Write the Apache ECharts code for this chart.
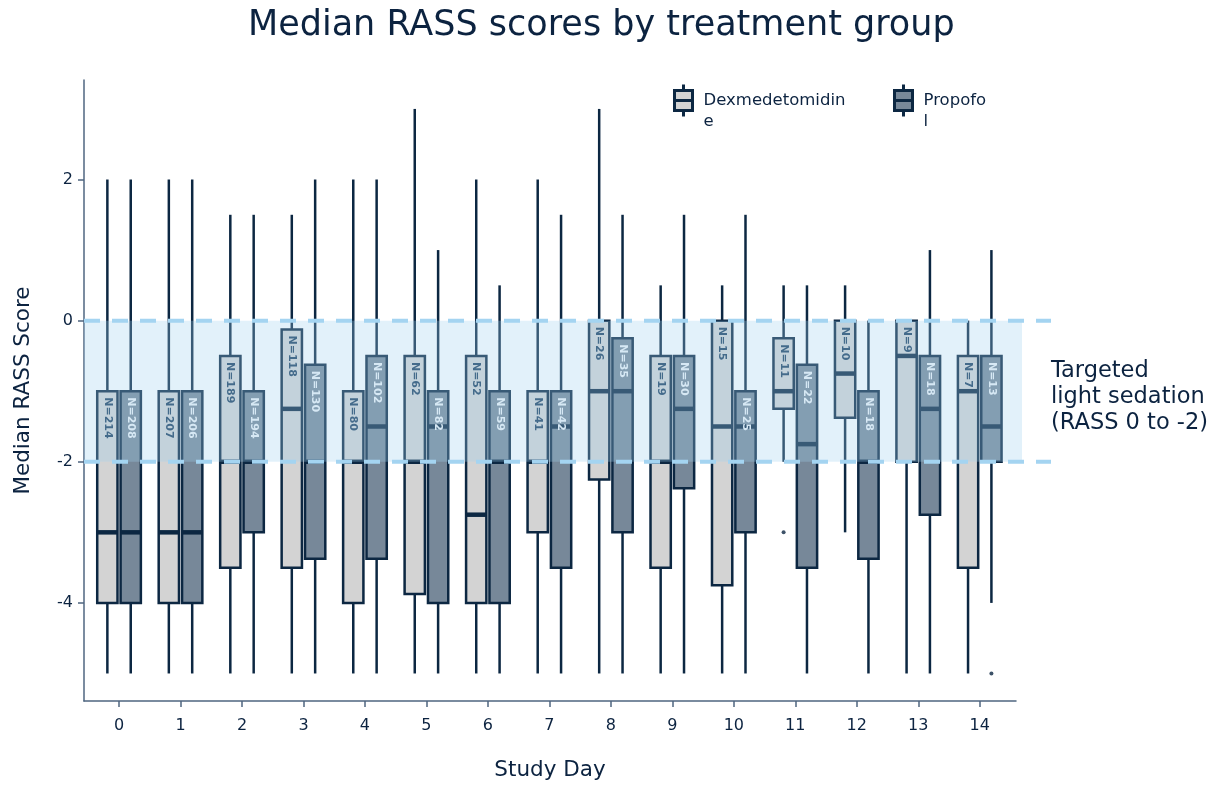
<!DOCTYPE html>
<html>
<head>
<meta charset="utf-8">
<script src="https://cdn.jsdelivr.net/npm/echarts@6/dist/echarts.min.js"></script>
<style>
html,body{margin:0;padding:0;background:#fff;}
#chart{width:1210px;height:786px;}
</style>
</head>
<body>
<div id="chart"></div>
<script>
// ---------- data ----------
const days = [0,1,2,3,4,5,6,7,8,9,10,11,12,13,14];
const xTickLabels = [0,1,2,3,4,5,6,7,8,9,10,11,12,13,14];
const yTickValues = [-4,-2,0,2];

const dexN    = [214,207,189,118,80,62,52,41,26,19,15,11,10,9,7];
const dexLow  = [-5,-5,-5,-5,-5,-5,-5,-5,-5,-5,-5,-2,-3,-5,-5];
const dexQ1   = [-4,-4,-3.5,-3.5,-4,-3.875,-4,-3,-2.25,-3.5,-3.75,-1.25,-1.375,-2,-3.5];
const dexMed  = [-3,-3,-2,-1.25,-2,-2,-2.75,-2,-1,-2,-1.5,-1,-0.75,-0.5,-1];
const dexQ3   = [-1,-1,-0.5,-0.125,-1,-0.5,-0.5,-1,0,-0.5,0,-0.25,0,0,-0.5];
const dexHigh = [2,2,1.5,1.5,2,3,2,2,3,0.5,0.5,0.5,0.5,0,0];
const dexOutliers = [[11,-3]];

const propN    = [208,206,194,130,102,82,59,42,35,30,25,22,18,18,13];
const propLow  = [-5,-5,-5,-5,-5,-5,-5,-5,-5,-5,-5,-5,-5,-5,-4];
const propQ1   = [-4,-4,-3,-3.375,-3.375,-4,-4,-3.5,-3,-2.375,-3,-3.5,-3.375,-2.75,-2];
const propMed  = [-3,-3,-2,-2,-1.5,-1.5,-2,-1.5,-1,-1.25,-1.5,-1.75,-2,-1.25,-1.5];
const propQ3   = [-1,-1,-1,-0.625,-0.5,-1,-1,-1,-0.25,-0.5,-1,-0.625,-1,-0.5,-0.5];
const propHigh = [2,2,1.5,2,2,1,0.5,1.5,1.5,1.5,1.5,0.5,0,1,1];
const propOutliers = [[14,-5]];

const targetRange = [0, -2];

// ---------- styles ----------
const FONT = 'DejaVu Sans';
const DARK = '#0c2742';
const TEXT = '#0c2340';
const AXIS = '#4f6680';
const DEX_FILL = '#d3d3d3';
const PROP_FILL = '#778899';
const OFFSET = 0.19;
const HALF = 0.165;

function boxData(n, lo, q1, md, q3, hi) {
  return days.map((d, i) => [d, lo[i], q1[i], md[i], q3[i], hi[i], n[i]]);
}

function makeRender(offset, fill, labelColor) {
  return function (params, api) {
    const x = api.value(0) + offset;
    const lo = api.value(1), q1 = api.value(2), md = api.value(3), q3 = api.value(4), hi = api.value(5), n = api.value(6);
    const pHi = api.coord([x, hi]);
    const pQ3 = api.coord([x, q3]);
    const pQ1 = api.coord([x, q1]);
    const pLo = api.coord([x, lo]);
    const pL = api.coord([x - HALF, md]);
    const pR = api.coord([x + HALF, md]);
    const children = [];
    if (hi > q3) children.push({type:'line', shape:{x1:pHi[0],y1:pHi[1],x2:pQ3[0],y2:pQ3[1]}, style:{stroke:DARK,lineWidth:2.5}});
    if (lo < q1) children.push({type:'line', shape:{x1:pQ1[0],y1:pQ1[1],x2:pLo[0],y2:pLo[1]}, style:{stroke:DARK,lineWidth:2.5}});
    children.push({type:'rect', shape:{x:pL[0], y:pQ3[1], width:pR[0]-pL[0], height:pQ1[1]-pQ3[1]}, style:{fill:fill, stroke:DARK, lineWidth:2.5}});
    children.push({type:'line', shape:{x1:pL[0],y1:pL[1],x2:pR[0],y2:pR[1]}, style:{stroke:DARK,lineWidth:4.5}});
    children.push({type:'text', x:pQ3[0], y:pQ3[1]+6, rotation:-Math.PI/2,
      style:{text:'N=' + n, fill:labelColor, font:'bold 11px "' + FONT + '"', align:'left', verticalAlign:'middle'}});
    return {type:'group', children:children};
  };
}

function renderBand(params, api) {
  const cs = params.coordSys;
  const y0 = api.coord([0, api.value(0)])[1];
  const y1 = api.coord([0, api.value(1)])[1];
  const left = cs.x;
  const bandRight = cs.x + cs.width + 6;
  const lineRight = cs.x + cs.width + 35;
  return {type:'group', children:[
    {type:'rect', shape:{x:left, y:y0, width:bandRight-left, height:y1-y0}, style:{fill:'rgba(160,208,240,0.30)'}},
    {type:'line', shape:{x1:left, y1:y0, x2:lineRight, y2:y0}, style:{stroke:'#a4d4f1', lineWidth:4, lineDash:[16,12]}},
    {type:'line', shape:{x1:left, y1:y1, x2:lineRight, y2:y1}, style:{stroke:'#a4d4f1', lineWidth:4, lineDash:[16,12]}}
  ]};
}

const legendIcon = 'path://M9,0L9,6M0,6L18,6L18,26L0,26ZM0,16L18,16M9,26L9,32';

const chart = echarts.init(document.getElementById('chart'), null, {renderer:'canvas'});
chart.setOption({
  backgroundColor:'#ffffff',
  animation:false,
  textStyle:{fontFamily:FONT},
  title:{
    text:'Median RASS scores by treatment group',
    left:243, top:3,
    textStyle:{fontFamily:FONT, fontSize:35, fontWeight:'normal', color:TEXT}
  },
  legend:[
    {left:673, top:69, padding:0, itemWidth:30, itemHeight:32, selectedMode:false,
     data:[{name:'Dexmedetomidine', icon:legendIcon, itemStyle:{color:DEX_FILL, borderColor:DARK, borderWidth:3}}],
     formatter:function(){return '\nDexmedetomidin\ne';},
     textStyle:{fontFamily:FONT, fontSize:16.5, color:TEXT, lineHeight:21}},
    {left:893, top:69, padding:0, itemWidth:30, itemHeight:32, selectedMode:false,
     data:[{name:'Propofol', icon:legendIcon, itemStyle:{color:PROP_FILL, borderColor:DARK, borderWidth:3}}],
     formatter:function(){return '\nPropofo\nl';},
     textStyle:{fontFamily:FONT, fontSize:16.5, color:TEXT, lineHeight:21}}
  ],
  grid:{left:84, right:194, top:80, bottom:81, containLabel:false},
  xAxis:{
    type:'value', min:-0.57, max:14.59,
    name:'Study Day', nameLocation:'middle', nameGap:58,
    nameTextStyle:{fontFamily:FONT, fontSize:21.5, color:TEXT},
    axisLine:{show:true, onZero:false, lineStyle:{color:AXIS, width:1.5}},
    axisTick:{show:true, length:6, lineStyle:{color:AXIS, width:1.5}, customValues:xTickLabels},
    axisLabel:{color:TEXT, fontSize:16, fontFamily:FONT, margin:17, customValues:xTickLabels},
    splitLine:{show:false}
  },
  yAxis:{
    type:'value', min:-5.39, max:3.41,
    name:'Median RASS Score', nameLocation:'middle', nameGap:50,
    nameTextStyle:{fontFamily:FONT, fontSize:21.5, color:TEXT},
    axisLine:{show:true, onZero:false, lineStyle:{color:AXIS, width:1.5}},
    axisTick:{show:true, length:6, lineStyle:{color:AXIS, width:1.5}, customValues:yTickValues},
    axisLabel:{color:TEXT, fontSize:16, fontFamily:FONT, margin:11, customValues:yTickValues},
    splitLine:{show:false}
  },
  graphic:[{
    type:'text', left:1051, top:358,
    style:{text:'Targeted\nlight sedation\n(RASS 0 to -2)', fill:TEXT, font:'22.5px "' + FONT + '"', lineHeight:26, align:'center'}
  }],
  series:[
    {name:'Dexmedetomidine', type:'custom', z:2, renderItem:makeRender(-OFFSET, DEX_FILL, '#1d3f60'),
     itemStyle:{color:DEX_FILL, borderColor:DARK}, data:boxData(dexN, dexLow, dexQ1, dexMed, dexQ3, dexHigh)},
    {name:'Propofol', type:'custom', z:2, renderItem:makeRender(OFFSET, PROP_FILL, '#eef2f6'),
     itemStyle:{color:PROP_FILL, borderColor:DARK}, data:boxData(propN, propLow, propQ1, propMed, propQ3, propHigh)},
    {name:'dexOut', type:'scatter', z:2, symbolSize:4, itemStyle:{color:DARK},
     data:dexOutliers.map(p => [p[0]-OFFSET, p[1]])},
    {name:'propOut', type:'scatter', z:2, symbolSize:4, itemStyle:{color:DARK},
     data:propOutliers.map(p => [p[0]+OFFSET, p[1]])},
    {name:'band', type:'custom', z:5, clip:false, silent:true, renderItem:renderBand, data:[targetRange]}
  ]
});
</script>
</body>
</html>
